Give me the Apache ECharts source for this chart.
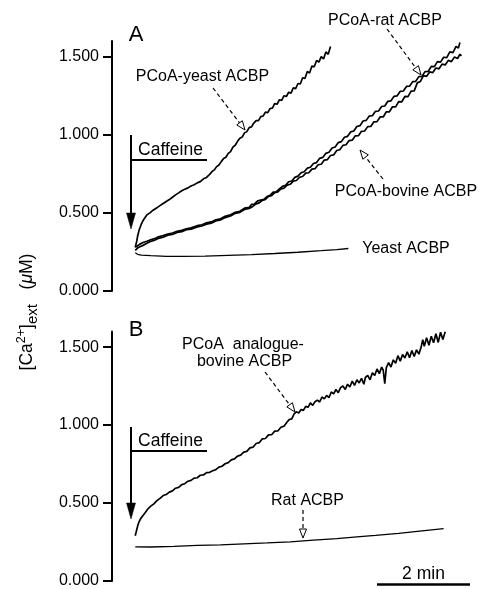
<!DOCTYPE html>
<html>
<head>
<meta charset="utf-8">
<script src="https://cdn.jsdelivr.net/npm/echarts@6/dist/echarts.min.js"></script>
<style>
html,body{margin:0;padding:0;background:#fff;}
#chart{width:479px;height:589px;}
</style>
</head>
<body>
<div id="chart"></div>
<script>
// ---- data (time in s after caffeine, [Ca2+]ext in µM) ----
const yTicks = [0, 0.5, 1.0, 1.5];

const pcoaYeastACBP = [[0,0.28],[1,0.30],[2,0.32],[3,0.35],[4,0.37],[5,0.39],[6.5,0.41],[8,0.43],[10,0.45],[12,0.465],[15,0.487],[19,0.50],[23,0.517],[27,0.53],[31,0.543],[36,0.56],[40,0.573],[44,0.585],[48,0.60],[52,0.615],[56,0.628],[60,0.642],[64,0.651],[68,0.66],[72,0.672],[76,0.68],[80,0.692],[84,0.70],[88,0.718],[92,0.727],
[96,0.746],[99,0.764],[102,0.775],[105,0.796],[108,0.806],[111,0.828],[114,0.848],[117,0.856],[120,0.881],[123,0.892],[126,0.921],[129,0.933],[132,0.958],[135,0.978],[138,0.985],[141,1.012],[144,1.020],[147,1.046],[150,1.050],[153,1.075],[156,1.090],[159,1.090],[162,1.116],[165,1.120],[168,1.145],[171,1.142],[174,1.168],[177,1.170],[180,1.200],[183,1.195],[186,1.224],[189,1.220],[192,1.250],[195,1.245],[198,1.272],[201,1.266],[204,1.300],[207,1.295],[210,1.328],[213,1.325],[216,1.365],[219,1.360],[222,1.405],[225,1.395],[228,1.440],[231,1.435],[234,1.475],[237,1.465],[240,1.500],[243,1.485],[246,1.530],[249,1.515],[252,1.565]];

const pcoaRatACBP = [[0,0.28],[3,0.29],[6,0.30],[10,0.31],[15,0.318],[20,0.328],[25,0.335],[30,0.347],[36,0.355],[42,0.364],[48,0.371],[54,0.382],[60,0.388],[66,0.398],[72,0.404],[80,0.418],[86,0.424],[92,0.436],[98,0.442],[104,0.456],[110,0.462],[116,0.478],[123,0.488],[129,0.504],[135,0.51],[141,0.53],[147,0.535],
[150,0.554],[154,0.557],[158,0.577],[162,0.582],[166,0.586],[170,0.604],[174,0.612],[178,0.633],[182,0.635],[186,0.654],[190,0.670],[194,0.676],[198,0.699],[202,0.704],[206,0.727],[210,0.735],[214,0.757],[218,0.763],[222,0.786],[226,0.792],[230,0.816],[234,0.822],[238,0.849],[242,0.855],[246,0.881],[250,0.888],[254,0.915],[258,0.922],[262,0.950],[266,0.956],[270,0.984],[274,0.990],[278,1.018],[282,1.024],[286,1.053],[290,1.058],[294,1.088],[298,1.092],[302,1.120],[306,1.122],[310,1.150],[314,1.152],[318,1.181],[322,1.184],[326,1.214],[330,1.217],[334,1.246],[338,1.249],[342,1.278],[346,1.280],[350,1.309],[354,1.311],[358,1.340],[362,1.342],[366,1.372],[370,1.374],[374,1.404],[378,1.405],[382,1.437],[386,1.436],[390,1.468],[394,1.465],[398,1.496],[402,1.494],[406,1.530],[410,1.526],[414,1.565],[417,1.555],[419,1.590]];

const pcoaBovineACBP = [[0,0.26],[3,0.275],[6,0.283],[10,0.292],[15,0.305],[20,0.318],[25,0.325],[30,0.337],[36,0.345],[42,0.357],[48,0.362],[54,0.375],[60,0.38],[66,0.392],[72,0.396],[80,0.41],[86,0.416],[92,0.428],[98,0.434],[104,0.448],[110,0.455],[116,0.47],[123,0.48],[129,0.497],[135,0.503],[141,0.522],[147,0.528],
[152,0.543],[156,0.558],[160,0.564],[164,0.580],[168,0.586],[172,0.605],[176,0.610],[180,0.629],[184,0.634],[188,0.654],[192,0.658],[196,0.678],[200,0.683],[204,0.703],[208,0.707],[212,0.728],[216,0.733],[220,0.754],[224,0.757],[228,0.780],[232,0.783],[236,0.808],[240,0.811],[244,0.838],[248,0.841],[252,0.867],[256,0.871],[260,0.899],[264,0.904],[268,0.932],[272,0.936],[276,0.963],[280,0.965],[284,0.993],[288,0.994],[292,1.022],[296,1.024],[300,1.052],[304,1.053],[308,1.083],[312,1.084],[316,1.114],[320,1.114],[324,1.147],[328,1.147],[332,1.179],[336,1.178],[340,1.212],[344,1.211],[348,1.245],[352,1.244],[356,1.279],[360,1.281],[364,1.332],[368,1.341],[372,1.378],[376,1.374],[380,1.402],[384,1.398],[388,1.427],[392,1.422],[396,1.452],[400,1.447],[404,1.476],[408,1.468],[412,1.498],[416,1.488],[419,1.515],[421,1.505]];

const yeastACBP = [[0,0.245],[3,0.235],[8,0.23],[20,0.226],[40,0.222],[60,0.221],[90,0.223],[120,0.228],[150,0.233],[180,0.24],[210,0.248],[240,0.258],[260,0.265],[275,0.272]];

const pcoaAnalogueBovineACBP = [[0,0.29],[1,0.31],[2,0.33],[3.5,0.36],[5,0.38],[7,0.40],[10,0.42],[13,0.44],[16,0.46],[20,0.48],[24,0.495],[28,0.515],[32,0.53],[36,0.548],[40,0.555],[44,0.57],[48,0.578],[52,0.595],[56,0.60],[60,0.618],[64,0.624],[68,0.64],[72,0.645],[76,0.66],[80,0.662],[84,0.678],[88,0.68],[92,0.695],[96,0.697],
[100,0.707],[104,0.714],[108,0.730],[112,0.736],[116,0.752],[120,0.759],[124,0.777],[128,0.783],[132,0.801],[136,0.807],[140,0.826],[144,0.831],[148,0.854],[152,0.858],[156,0.882],[160,0.887],[164,0.912],[168,0.914],[172,0.937],[176,0.938],[180,0.961],[184,0.962],[188,0.986],[192,0.993],
[196,1.020],[199,1.036],[202,1.040],[205,1.072],[208,1.085],[211,1.078],[214,1.100],[217,1.094],[220,1.120],[223,1.114],[226,1.142],[229,1.126],[232,1.150],[235,1.160],[238,1.148],[241,1.180],[244,1.168],[247,1.190],[250,1.176],[253,1.212],[256,1.200],[259,1.228],[262,1.208],[265,1.240],[268,1.250],[271,1.228],[274,1.262],[277,1.244],[280,1.282],[283,1.255],[286,1.290],[289,1.270],[292,1.300],[295,1.262],[297,1.305],[300,1.318],[303,1.290],[306,1.336],[309,1.318],[312,1.360],[315,1.330],[318,1.372],[320,1.352],[322,1.265],[324,1.368],[327,1.400],[330,1.372],[333,1.418],[336,1.396],[339,1.445],[342,1.410],[345,1.452],[348,1.430],[351,1.470],[354,1.432],[357,1.478],[360,1.440],[363,1.482],[366,1.455],[369,1.500],[371,1.548],[373,1.505],[376,1.560],[379,1.512],[382,1.570],[385,1.528],[388,1.585],[391,1.530],[394,1.595],[397,1.548],[400,1.598]];

const ratACBP = [[0,0.219],[20,0.218],[50,0.222],[80,0.228],[110,0.232],[140,0.238],[170,0.244],[200,0.251],[230,0.262],[260,0.272],[286,0.283],[310,0.292],[340,0.306],[370,0.322],[398,0.336]];

const scaleBarSeconds = 120; // "2 min"

// ---- chart ----
const FONT = '"Liberation Sans", Arial, Helvetica, sans-serif';
const chart = echarts.init(document.getElementById('chart'), null, {renderer: 'canvas'});

function yAxisDef(gi) {
  return {
    gridIndex: gi, type: 'value', min: 0, max: 1.6,
    axisLine: {show: true, onZero: false, lineStyle: {color: '#000', width: 2}},
    axisTick: {show: true, length: 9, customValues: yTicks, lineStyle: {color: '#000', width: 2}},
    axisLabel: {customValues: yTicks, formatter: v => v.toFixed(3), color: '#000',
                fontSize: 16, fontFamily: FONT, margin: 13},
    splitLine: {show: false}
  };
}
function xAxisDef(gi) {
  return {gridIndex: gi, type: 'value', min: -30, max: 432, show: false};
}
function trace(data, gi, w) {
  return {type: 'line', xAxisIndex: gi, yAxisIndex: gi, data: data, showSymbol: false,
          symbol: 'none', silent: true, lineStyle: {color: '#000', width: w || 1.7}};
}

chart.setOption({
  animation: false,
  backgroundColor: '#fff',
  grid: [
    {left: 112, right: 9, top: 41, height: 250},
    {left: 112, right: 9, top: 331.5, height: 251}
  ],
  xAxis: [xAxisDef(0), xAxisDef(1)],
  yAxis: [yAxisDef(0), yAxisDef(1)],
  series: [
    trace(pcoaYeastACBP, 0),
    trace(pcoaRatACBP, 0),
    trace(pcoaBovineACBP, 0),
    trace(yeastACBP, 0, 1.3),
    trace(pcoaAnalogueBovineACBP, 1),
    trace(ratACBP, 1, 1.3)
  ]
});

// ---- annotations ----
function txt(x, y, text, size, align) {
  return {type: 'text', x: x, y: y, silent: true,
          style: {text: text, fill: '#000', font: (size || 16) + 'px ' + FONT,
                  textAlign: align || 'center', textVerticalAlign: 'middle'}};
}
function seg(x1, y1, x2, y2, w, dash) {
  return {type: 'line', silent: true, shape: {x1, y1, x2, y2},
          style: {stroke: '#000', lineWidth: w, lineDash: dash || null}};
}
function arrow(fx, fy, tx, ty, opts) {
  const len = opts.len, hw = opts.hw;
  const dx = tx - fx, dy = ty - fy, L = Math.hypot(dx, dy);
  const ux = dx / L, uy = dy / L, px = -uy, py = ux;
  const bx = tx - ux * len, by = ty - uy * len;
  const els = [seg(fx, fy, opts.filled ? bx + ux : bx, opts.filled ? by + uy : by, opts.w, opts.dash)];
  els.push({type: 'polygon', silent: true,
    shape: {points: [[tx, ty], [bx + px * hw, by + py * hw], [bx - px * hw, by - py * hw]]},
    style: {fill: opts.filled ? '#000' : '#fff', stroke: '#000', lineWidth: opts.filled ? 0.5 : 1}});
  return els;
}
const dashed = {len: 9, hw: 3.5, w: 1.2, dash: [4, 3], filled: false};
const solid = {len: 16, hw: 4.5, w: 2, filled: true};

const g = [];
// panel letters
g.push(txt(136, 35, 'A', 22));
g.push(txt(136, 330, 'B', 22));
// caffeine markers
g.push(...arrow(131, 135, 131, 229, solid));
g.push(seg(132, 160, 207, 160, 2));
g.push(txt(170.5, 150, 'Caffeine', 17.5));
g.push(...arrow(131, 427, 131, 519, solid));
g.push(seg(132, 451, 207, 451, 2));
g.push(txt(170.5, 441, 'Caffeine', 17.5));
// panel A labels
g.push(txt(202.5, 77, 'PCoA-yeast ACBP'));
g.push(...arrow(213, 88, 245, 130, dashed));
g.push(txt(385, 21, 'PCoA-rat ACBP'));
g.push(...arrow(387, 29, 421, 75, dashed));
g.push(txt(406, 192, 'PCoA-bovine ACBP'));
g.push(...arrow(383, 179, 360, 150, dashed));
g.push(txt(406, 249, 'Yeast ACBP'));
// panel B labels
g.push(txt(243, 345, 'PCoA  analogue-'));
g.push(txt(244.5, 361.5, 'bovine ACBP'));
g.push(...arrow(265, 372, 295, 412, dashed));
g.push(txt(307.5, 501, 'Rat ACBP'));
g.push(...arrow(303, 510, 303, 538, dashed));
// scale bar via x scale
const maxX = 432;
const p1 = chart.convertToPixel({gridIndex: 1}, [maxX - scaleBarSeconds, 0]);
const p2 = chart.convertToPixel({gridIndex: 1}, [maxX, 0]);
g.push(seg(p1[0], p1[1] + 3.5, p2[0], p2[1] + 3.5, 2.5));
g.push(txt((p1[0] + p2[0]) / 2, p1[1] - 6.5, '2 min', 17.5));
// y-axis title
g.push({type: 'text', x: 27, y: 312, rotation: Math.PI / 2, silent: true,
  style: {
    text: '{n|[Ca}{sup|2+}{n|]}{sub|ext}{n|   (}{it|μ}{n|M)}',
    textAlign: 'center', textVerticalAlign: 'middle', fill: '#000',
    rich: {
      n: {fontSize: 17.5, fontFamily: FONT, lineHeight: 28, verticalAlign: 'middle', fill: '#000'},
      sup: {fontSize: 12.5, fontFamily: FONT, lineHeight: 28, verticalAlign: 'top', padding: [2, 0, 0, 0], fill: '#000'},
      sub: {fontSize: 15, fontFamily: FONT, lineHeight: 28, verticalAlign: 'bottom', padding: [0, 0, 1, 0], fill: '#000'},
      it: {fontSize: 17.5, fontFamily: FONT, fontStyle: 'italic', lineHeight: 28, verticalAlign: 'middle', fill: '#000'}
    }
  }});

chart.setOption({graphic: g});
</script>
</body>
</html>
